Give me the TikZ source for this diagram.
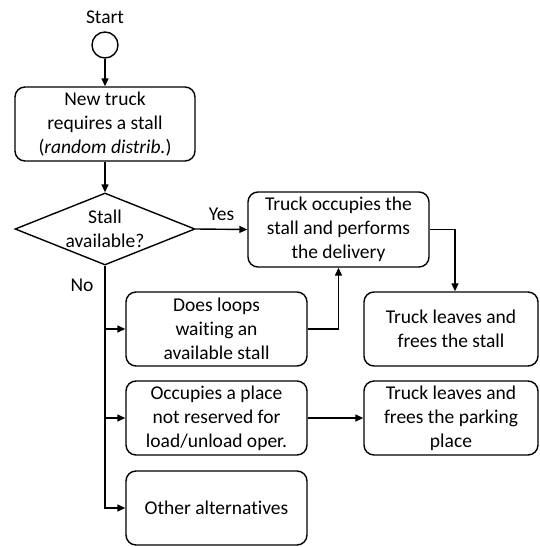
\documentclass[tikz,border=0pt]{standalone}
\usepackage{fontspec}
\setmainfont{Carlito}[Ligatures=NoCommon]
\usetikzlibrary{shapes.geometric,arrows.meta,calc}
\begin{document}
\begin{tikzpicture}[x=1pt,y=-1pt,
  every node/.style={font=\fontsize{19.5}{24}\selectfont},
  box/.style={draw,line width=1.4pt,rounded corners=10pt,align=center,
    minimum width=181pt,minimum height=74pt,inner sep=0pt},
  conn/.style={line width=1.4pt,-{Triangle[length=8pt,width=7pt]}}]
\useasboundingbox (0,0) rectangle (539,547);
\node (st) at (105,17) {Start};
\node[draw,circle,line width=1.4pt,minimum size=26pt,inner sep=0pt] (c) at (105,45) {};
\node[box,minimum width=180pt] (b1) at (105,124) {New truck\\requires a stall\\(\textit{random distrib.})};
\node[draw,diamond,line width=1.4pt,minimum width=180pt,minimum height=72pt,inner sep=0pt,
  label={[align=center]center:Stall\\available?}] (d) at (105,229) {};
\node[box,minimum height=75pt] (b2) at (338.5,229.5) {Truck occupies the\\stall and performs\\the delivery};
\node[box,minimum width=174pt] (b3) at (451,329) {Truck leaves and\\frees the stall};
\node[box] (b4) at (216.5,329) {Does loops\\waiting an\\available stall};
\node[box] (b5) at (216.5,418) {Occupies a place\\not reserved for\\load/unload oper.};
\node[box,minimum width=174pt] (b6) at (451,418) {Truck leaves and\\frees the parking\\place};
\node[box] (b7) at (216.5,508) {Other alternatives};
\draw[conn] (c.south) -- (b1.north);
\draw[conn] (b1.south) -- (d.north);
\draw[conn] (d.east) -- node[above,yshift=5pt] (yes) {Yes} (b2.west);
\draw[conn] (b2.east) -| ([xshift=4pt]b3.north);
\draw[conn] (b4.east) -| (b2.south);
\draw[conn] (d.south) |- (b7.west);
\draw[conn] (d.south |- b4.west) -- (b4.west);
\draw[conn] (d.south |- b5.west) -- (b5.west);
\draw[conn] (b5.east) -- (b6.west);
\node (no) at (82,285) {No};
\end{tikzpicture}
\end{document}
